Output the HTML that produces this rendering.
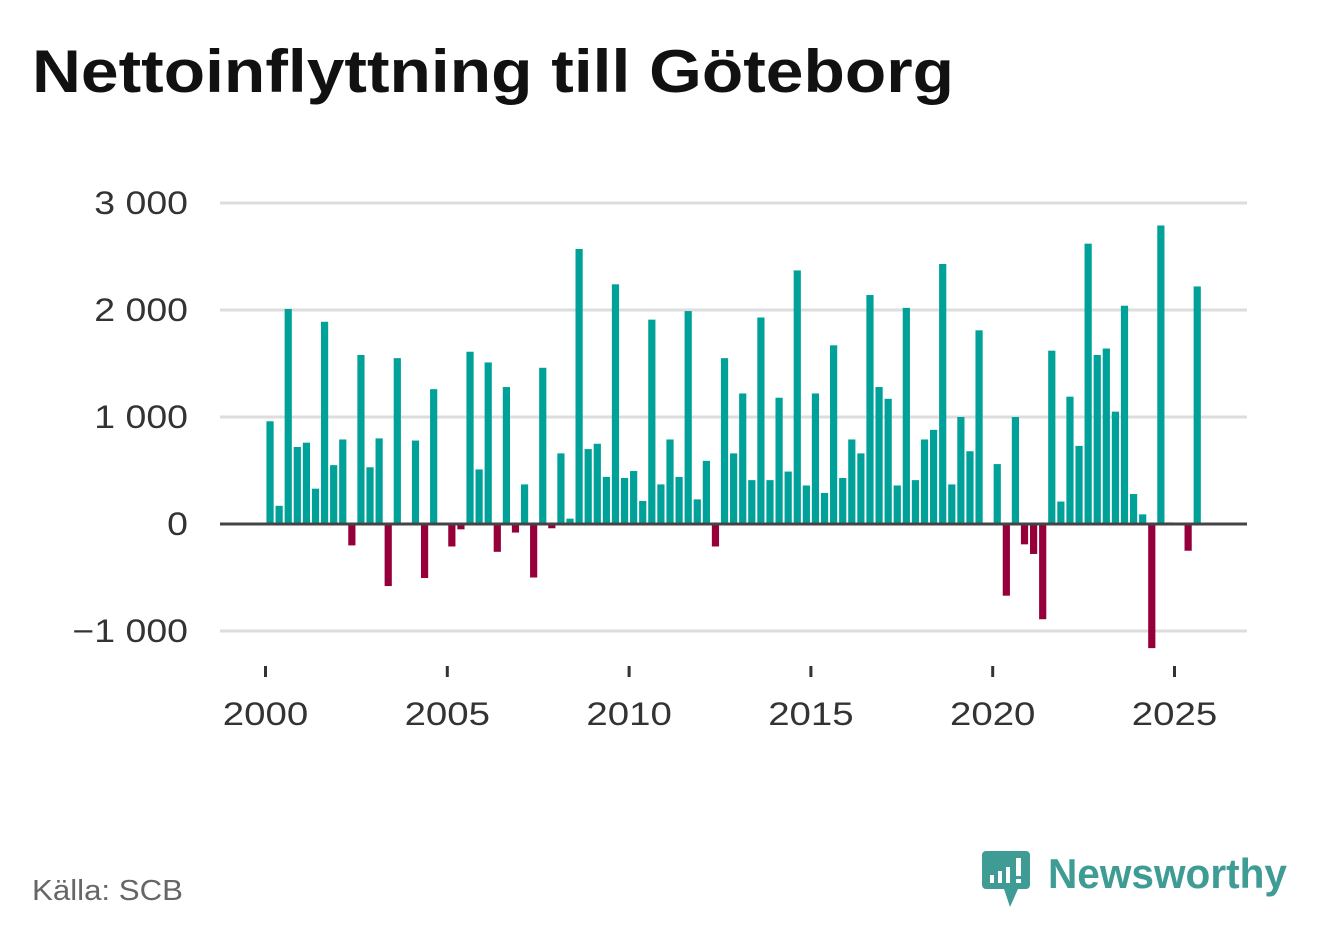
<!DOCTYPE html>
<html><head><meta charset="utf-8"><style>
body{margin:0;background:#fff;width:1322px;height:939px;overflow:hidden;font-family:"Liberation Sans",sans-serif}
</style></head><body>
<svg width="1322" height="939">
<text x="32" y="92" font-size="60" font-weight="bold" fill="#111" textLength="922" lengthAdjust="spacingAndGlyphs">Nettoinflyttning till Göteborg</text>
<g id="grid"></g><g id="bars"></g><g id="axes"></g>
<text x="32" y="900" font-size="29" fill="#666" textLength="151" lengthAdjust="spacingAndGlyphs">Källa: SCB</text>
<g>
<path d="M986 851 h40 a4 4 0 0 1 4 4 v30 a4 4 0 0 1 -4 4 h-8 l-8 18 l-6 -18 h-18 a4 4 0 0 1 -4 -4 v-30 a4 4 0 0 1 4 -4z" fill="#3f9c95"/>
<rect x="990" y="875" width="4" height="8" fill="#fff"/><rect x="998" y="871" width="4" height="12" fill="#fff"/><rect x="1006" y="867" width="4" height="16" fill="#fff"/><rect x="1016" y="858" width="5" height="18" fill="#fff"/><rect x="1016" y="879" width="5" height="4" fill="#fff"/>
<text x="1048" y="888" font-size="42" font-weight="bold" fill="#3f9c95" textLength="239" lengthAdjust="spacingAndGlyphs">Newsworthy</text>
</g>
</svg>
<script>
const values=[960,170,2010,720,760,330,1890,550,790,-200,1580,530,800,-580,1550,0,780,-505,1260,0,-210,-50,1610,510,1510,-260,1280,-80,370,-500,1460,-40,660,50,2570,700,750,440,2240,430,495,215,1910,370,790,440,1990,230,590,-210,1550,660,1220,410,1930,410,1180,490,2370,360,1220,290,1670,430,790,660,2140,1280,1170,360,2020,410,790,880,2430,370,1000,680,1810,0,560,-670,1000,-190,-280,-890,1620,210,1190,730,2620,1580,1640,1050,2040,280,90,-1160,2790,15,0,-250,2220];
const yTicks=[-1000,0,1000,2000,3000];
const yTickLabels=["\u22121 000","0","1 000","2 000","3 000"];
const xTicks=[2000,2005,2010,2015,2020,2025];
const NS="http://www.w3.org/2000/svg";
const y=v=>524-v*0.107;
const x=yr=>265.5+(yr-2000)*36.36;
function mk(t,a,p){const e=document.createElementNS(NS,t);for(const k in a)e.setAttribute(k,a[k]);p.appendChild(e);return e;}
function widen(t,f){const w=t.getComputedTextLength();t.setAttribute('textLength',w*f);t.setAttribute('lengthAdjust','spacingAndGlyphs');}
const grid=document.getElementById('grid'),bars=document.getElementById('bars'),axes=document.getElementById('axes');
yTicks.forEach((v,i)=>{
 if(v!==0){const l=mk('line',{x1:220,x2:1247,y1:y(v),y2:y(v),stroke:'#ddd','stroke-width':3},grid);
 
 }
 const t=mk('text',{x:188,y:y(v)+11,'text-anchor':'end','font-size':32,fill:'#333'},axes);t.textContent=yTickLabels[i];
 
 
 widen(t,1.17);
});
values.forEach((v,i)=>{
 const cx=x(2000+(i+0.5)/4);
 const r=mk('rect',{x:cx-3.6,y:Math.min(y(v),524),width:7.2,height:Math.abs(y(v)-524),fill:v>=0?'#00a199':'#95003b'},bars);
 
 
});
const z=mk('line',{x1:220,x2:1247,y1:524,y2:524,stroke:'#444','stroke-width':3},axes);


xTicks.forEach(yr=>{
 const tk=mk('line',{x1:x(yr),x2:x(yr),y1:666,y2:677,stroke:'#333','stroke-width':3},axes);
 
 
 const t=mk('text',{x:x(yr),y:725,'text-anchor':'middle','font-size':32,fill:'#333'},axes);t.textContent=yr;
 
 
 widen(t,1.2);
});
</script>
</body></html>
